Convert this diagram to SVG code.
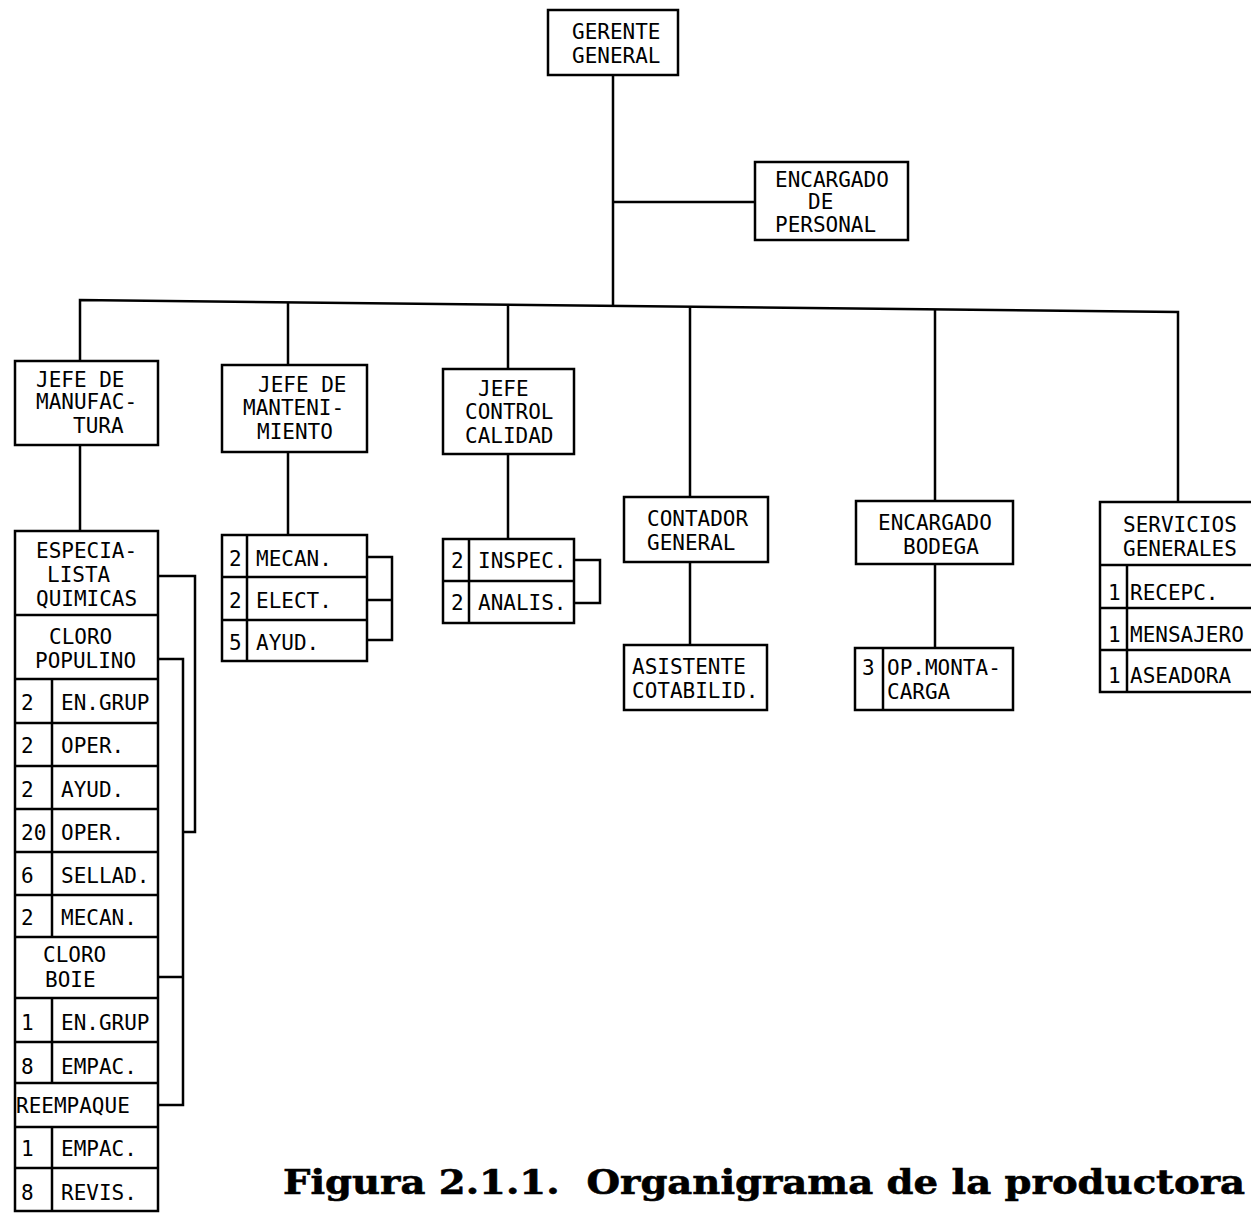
<svg xmlns="http://www.w3.org/2000/svg" width="1251" height="1213" viewBox="0 0 1251 1213">
<style>
.box{fill:#fff;stroke:#000;stroke-width:2.5}
.ln{fill:none;stroke:#000;stroke-width:2.5}
.t{font-family:"DejaVu Sans Mono","Liberation Mono",monospace;font-size:21px;fill:#000}
.cap{font-family:"DejaVu Serif","Liberation Serif",serif;font-weight:bold;font-size:34px;fill:#000;stroke:#000;stroke-width:0.6}
</style>
<rect width="1251" height="1213" fill="#fff"/>
<g id="connectors">
<path class="ln" d="M613,75 V305.8 M613,202 H755"/>
<path class="ln" d="M80,361 V300 L1178,312 V502"/>
<path class="ln" d="M288,302.3 V365 M508,304.7 V369 M690,306.7 V497 M935,309.3 V501"/>
<path class="ln" d="M80,445 V531 M288,452 V535 M508,454 V539 M690,562 V645 M935,564 V648"/>
<path class="ln" d="M367,557 H392 V640 H367 M367,600 H392"/>
<path class="ln" d="M574,560 H600 V603 H574"/>
<path class="ln" d="M158,576 H195 V832 H183 M158,659 H183 V1105 H158 M158,977 H183"/>
</g>
<g id="gerente-general">
<rect class="box" x="548" y="10" width="130" height="65"/>
<text class="t" x="572" y="39">GERENTE</text>
<text class="t" x="572" y="63">GENERAL</text>
</g>
<g id="encargado-personal">
<rect class="box" x="755" y="162" width="153" height="78"/>
<text class="t" x="775" y="187">ENCARGADO</text>
<text class="t" x="808" y="209">DE</text>
<text class="t" x="775" y="232">PERSONAL</text>
</g>
<g id="jefe-manufactura">
<rect class="box" x="15" y="361" width="143" height="84"/>
<text class="t" x="36" y="387">JEFE DE</text>
<text class="t" x="36" y="409">MANUFAC-</text>
<text class="t" x="73" y="433">TURA</text>
</g>
<g id="jefe-mantenimiento">
<rect class="box" x="222" y="365" width="145" height="87"/>
<text class="t" x="258" y="392">JEFE DE</text>
<text class="t" x="243" y="415">MANTENI-</text>
<text class="t" x="257" y="439">MIENTO</text>
</g>
<g id="jefe-control-calidad">
<rect class="box" x="443" y="369" width="131" height="85"/>
<text class="t" x="478" y="396">JEFE</text>
<text class="t" x="465" y="419">CONTROL</text>
<text class="t" x="465" y="443">CALIDAD</text>
</g>
<g id="contador-general">
<rect class="box" x="624" y="497" width="144" height="65"/>
<text class="t" x="647" y="526">CONTADOR</text>
<text class="t" x="647" y="550">GENERAL</text>
</g>
<g id="asistente-contabilidad">
<rect class="box" x="624" y="645" width="143" height="65"/>
<text class="t" x="632" y="674">ASISTENTE</text>
<text class="t" x="632" y="698">COTABILID.</text>
</g>
<g id="encargado-bodega">
<rect class="box" x="856" y="501" width="157" height="63"/>
<text class="t" x="878" y="530">ENCARGADO</text>
<text class="t" x="903" y="554">BODEGA</text>
</g>
<g id="op-montacarga">
<rect class="box" x="855" y="648" width="158" height="62"/>
<path class="ln" d="M883,648 V710"/>
<text class="t" x="862" y="675">3</text>
<text class="t" x="887" y="675">OP.MONTA-</text>
<text class="t" x="887" y="699">CARGA</text>
</g>
<g id="servicios-generales">
<rect class="box" x="1100" y="502" width="160" height="190"/>
<path class="ln" d="M1100,565 H1260 M1100,608 H1260 M1100,650 H1260 M1127,565 V692"/>
<text class="t" x="1123" y="532">SERVICIOS</text>
<text class="t" x="1123" y="556">GENERALES</text>
<text class="t" x="1108" y="600">1</text><text class="t" x="1130" y="600">RECEPC.</text>
<text class="t" x="1108" y="642">1</text><text class="t" x="1130" y="642">MENSAJERO</text>
<text class="t" x="1108" y="683">1</text><text class="t" x="1130" y="683">ASEADORA</text>
</g>
<g id="personal-mantenimiento">
<rect class="box" x="222" y="535" width="145" height="126"/>
<path class="ln" d="M222,577 H367 M222,620 H367 M247,535 V661"/>
<text class="t" x="229" y="566">2</text><text class="t" x="256" y="566">MECAN.</text>
<text class="t" x="229" y="608">2</text><text class="t" x="256" y="608">ELECT.</text>
<text class="t" x="229" y="650">5</text><text class="t" x="256" y="650">AYUD.</text>
</g>
<g id="personal-calidad">
<rect class="box" x="443" y="539" width="131" height="84"/>
<path class="ln" d="M443,581 H574 M469,539 V623"/>
<text class="t" x="451" y="568">2</text><text class="t" x="478" y="568">INSPEC.</text>
<text class="t" x="451" y="610">2</text><text class="t" x="478" y="610">ANALIS.</text>
</g>
<g id="manufactura-personal">
<rect class="box" x="15" y="531" width="143" height="680"/>
<path class="ln" d="M15,615 H158 M15,679 H158 M15,723 H158 M15,766 H158 M15,809 H158 M15,852 H158 M15,895 H158 M15,937 H158 M15,998 H158 M15,1042 H158 M15,1083 H158 M15,1127 H158 M15,1168 H158 M52,679 V937 M52,998 V1083 M52,1127 V1211"/>
<text class="t" x="36" y="558">ESPECIA-</text>
<text class="t" x="47" y="582">LISTA</text>
<text class="t" x="36" y="606">QUIMICAS</text>
<text class="t" x="49" y="644">CLORO</text>
<text class="t" x="35" y="668">POPULINO</text>
<text class="t" x="21" y="710">2</text><text class="t" x="61" y="710">EN.GRUP</text>
<text class="t" x="21" y="753">2</text><text class="t" x="61" y="753">OPER.</text>
<text class="t" x="21" y="797">2</text><text class="t" x="61" y="797">AYUD.</text>
<text class="t" x="21" y="840">20</text><text class="t" x="61" y="840">OPER.</text>
<text class="t" x="21" y="883">6</text><text class="t" x="61" y="883">SELLAD.</text>
<text class="t" x="21" y="925">2</text><text class="t" x="61" y="925">MECAN.</text>
<text class="t" x="43" y="962">CLORO</text>
<text class="t" x="45" y="987">BOIE</text>
<text class="t" x="21" y="1030">1</text><text class="t" x="61" y="1030">EN.GRUP</text>
<text class="t" x="21" y="1074">8</text><text class="t" x="61" y="1074">EMPAC.</text>
<text class="t" x="16" y="1113">REEMPAQUE</text>
<text class="t" x="21" y="1156">1</text><text class="t" x="61" y="1156">EMPAC.</text>
<text class="t" x="21" y="1200">8</text><text class="t" x="61" y="1200">REVIS.</text>
</g>
<text class="cap" x="283" y="1194" xml:space="preserve" textLength="962" lengthAdjust="spacingAndGlyphs">Figura 2.1.1.  Organigrama de la productora</text>
</svg>
